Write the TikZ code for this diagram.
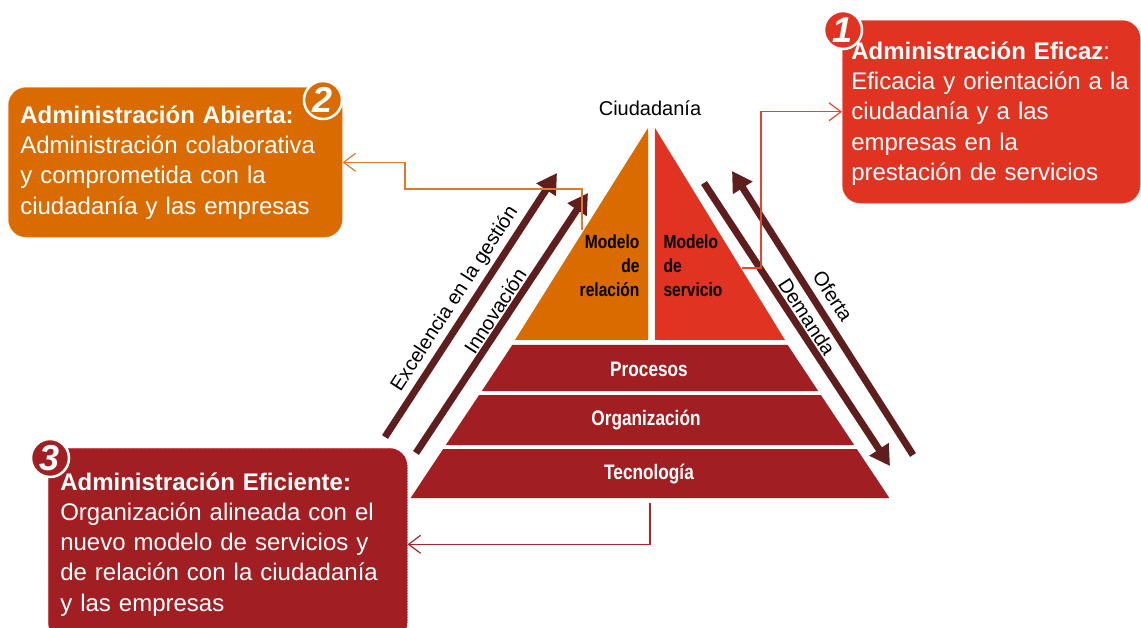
\documentclass[tikz,border=0pt]{standalone}
\usepackage{fontspec}
\setmainfont{Liberation Sans}
\newfontfamily\narrowfont[FakeStretch=0.82]{Liberation Sans}
\usetikzlibrary{arrows.meta}

\definecolor{abiorange}{HTML}{D96B00}
\definecolor{eficred}{HTML}{E03322}
\definecolor{basered}{HTML}{A11F22}
\definecolor{arrowbrown}{HTML}{5F1E1E}
\definecolor{linkorange}{HTML}{E07A28}
\definecolor{linkred}{HTML}{E8432E}
\definecolor{linkdark}{HTML}{A8262A}

\begin{document}
\begin{tikzpicture}[x=1pt,y=-1pt,
  infobox/.style={rounded corners=18pt, align=left, anchor=north west,
    inner xsep=12pt, inner ysep=0pt, text=white,
    font=\fontsize{24}{30.3}\selectfont},
  badge/.style={circle, minimum size=38pt, inner sep=0pt, draw=white,
    line width=2.5pt, text=white,
    font=\fontsize{36}{36}\selectfont\bfseries\itshape},
  flow/.style={line width=7pt, draw=arrowbrown,
    -{Triangle[length=20pt,width=22pt]}},
  flowlabel/.style={font=\fontsize{20}{20}\selectfont, inner sep=0pt},
  link/.style={line width=1.2pt, -{Straight Barb[length=12pt,width=18pt]}},
  layer/.style={text=white, font=\narrowfont\bfseries\fontsize{21}{21}\selectfont},
  modelo/.style={font=\narrowfont\bfseries\fontsize{19}{24}\selectfont}
]
\useasboundingbox (0,0) rectangle (1141,628);

% three information boxes
\node[infobox, fill=abiorange, draw=white!55!abiorange, densely dotted, line width=0.6pt,
  text width=310pt, minimum height=150pt] (b2) at (8,87)
  {\textbf{Administración Abierta:}\\Administración colaborativa\\y comprometida con la\\ciudadanía y las empresas};
\node[infobox, fill=eficred, draw=white!55!eficred, densely dotted, line width=0.6pt,
  inner xsep=9pt, text width=280pt, minimum height=183pt] (b1) at (842,20)
  {\rule{0pt}{21pt}\textbf{Administración Eficaz}:\\Eficacia y orientación a la\\ciudadanía y a las\\empresas en la\\prestación de servicios};
\node[infobox, fill=basered, draw=red!70!basered, densely dotted, line width=0.6pt,
  text width=335pt, minimum height=192pt] (b3) at (48,448)
  {\textbf{Administración Eficiente:}\\Organización alineada con el\\nuevo modelo de servicios y\\de relación con la ciudadanía\\y las empresas};

% pyramid: two top halves and three layers
\fill[abiorange] (515,340) -- (648,128) -- (648,340) -- cycle;
\fill[eficred] (655,128) -- (655,340) -- (785,340) -- cycle;
\fill[basered] (512.3,345) -- (787.7,345) -- (818.2,391) -- (481.8,391) -- cycle;
\fill[basered] (479.1,395) -- (820.9,395) -- (854.2,445) -- (445.8,445) -- cycle;
\fill[basered] (443.2,449) -- (856.8,449) -- (889.4,498) -- (410.6,498) -- cycle;

\node[font=\fontsize{20}{20}\selectfont] (cd) at (650,108) {Ciudadanía};
\node[modelo, align=right, anchor=east] (mr) at (643,266) {Modelo\\de\\relación};
\node[modelo, align=left, anchor=west] (ms) at (660,266) {Modelo\\de\\servicio};
\node[layer] (lp) at (649,369) {Procesos};
\node[layer] (lo) at (646,420) {Organización};
\node[layer] (lt) at (649,474) {Tecnología};

% flows along the sides of the pyramid
\coordinate (e0) at (385,437); \coordinate (e1) at (557,173);
\coordinate (i0) at (416,453); \coordinate (i1) at (588,193);
\coordinate (d0) at (704,183); \coordinate (d1) at (890,466);
\coordinate (f0) at (913,455); \coordinate (f1) at (732,171);
\draw[flow] (e0) -- (e1);
\draw[flow] (i0) -- (i1);
\draw[flow] (d0) -- (d1);
\draw[flow] (f0) -- (f1);

\node[flowlabel, rotate=57] (lex) at (455,299) {Excelencia en la gestión};
\node[flowlabel, rotate=57] (lin) at (495,311) {Innovación};
\node[flowlabel, rotate=-57] (lof) at (833,296) {Oferta};
\node[flowlabel, rotate=-57] (lde) at (807,317) {Demanda};

% links from the pyramid to the boxes
\coordinate (o1) at (582,230); \coordinate (o2) at (405,189);
\draw[link, linkorange] (o1) |- (o2) |- (b2.east);
\coordinate (r1) at (742,268); \coordinate (r2) at (761,268);
\draw[link, linkred] (r1) -- (r2) |- (b1.west);
\coordinate (t1) at (650,503);
\draw[link, linkdark] (t1) |- (b3.east);

% numbered badges
\node[badge, fill=abiorange] (n2) at (323,100) {2};
\node[badge, fill=eficred] (n1) at (843,30) {1};
\node[badge, fill=basered] (n3) at (50,458) {3};
\end{tikzpicture}
\end{document}
